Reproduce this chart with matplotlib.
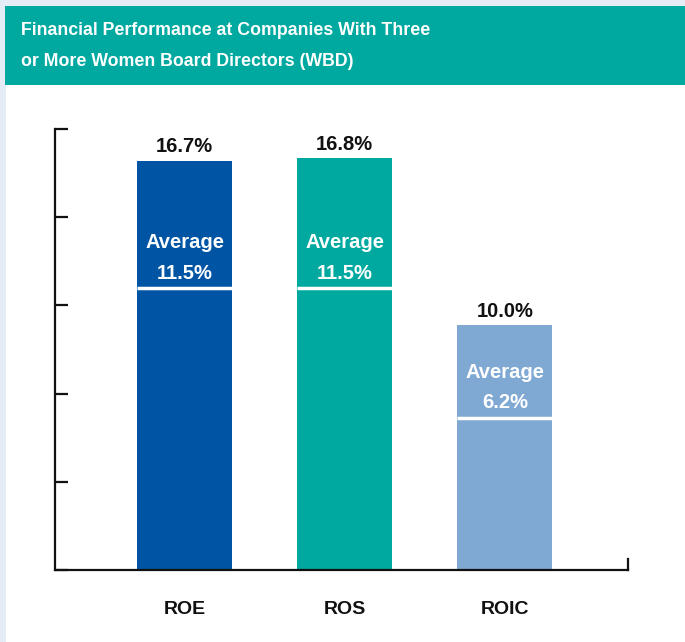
import matplotlib
matplotlib.use("Agg")
import matplotlib.pyplot as plt
from matplotlib.patches import Rectangle

# data
metrics = ["ROE", "ROS", "ROIC"]
wbd_values = [16.7, 16.8, 10.0]
avg_values = [11.5, 11.5, 6.2]
bar_colors = ["#0054A4", "#00A99F", "#7FA9D2"]
title_lines = ["Financial Performance at Companies With Three",
               "or More Women Board Directors (WBD)"]

teal = "#00A99F"
pale = "#E4ECF5"
font = "Liberation Sans"

fig = plt.figure(figsize=(6.85, 6.42), dpi=100, facecolor=pale)

# white panel + teal header band (behind the axes)
fig.patches.append(Rectangle((0.009, 0), 0.991, 0.868, transform=fig.transFigure,
                             facecolor="white", edgecolor="none", zorder=-2))
fig.patches.append(Rectangle((0.008, 0.868), 0.992, 0.123, transform=fig.transFigure,
                             facecolor=teal, edgecolor="none", zorder=-2))
fig.text(0.03, 0.953, title_lines[0], color="white", fontsize=12.8, fontweight="bold",
         family=font, va="center", ha="left")
fig.text(0.03, 0.904, title_lines[1], color="white", fontsize=12.8, fontweight="bold",
         family=font, va="center", ha="left")

ax = fig.add_axes([0.0803, 0.1121, 0.8365, 0.687])
ax.set_facecolor("none")

x = list(range(len(metrics)))
width = 0.594
ax.bar(x, wbd_values, width=width, color=bar_colors, zorder=2)
ax.hlines(avg_values, [i - width / 2 for i in x], [i + width / 2 for i in x],
          color="white", lw=2.5, zorder=3)

for i, (v, a) in enumerate(zip(wbd_values, avg_values)):
    ax.annotate("{:.1f}%".format(v), (i, v), xytext=(0, 6), textcoords="offset points",
                ha="center", va="baseline", fontsize=14.5, fontweight="bold",
                family=font, color="#111111")
    ax.annotate("{:.1f}%".format(a), (i, a), xytext=(0, 7), textcoords="offset points",
                ha="center", va="baseline", fontsize=14.5, fontweight="bold",
                family=font, color="white", zorder=4)
    ax.annotate("Average", (i, a), xytext=(0, 29), textcoords="offset points",
                ha="center", va="baseline", fontsize=14.5, fontweight="bold",
                family=font, color="white", zorder=4)

ax.set_xlim(-0.81, 2.77)
ax.set_ylim(0, 18)
ax.set_yticks([0, 3.6, 7.2, 10.8, 14.4, 18])
ax.set_yticklabels([])
ax.set_xticks(x)
ax.set_xticklabels(metrics, fontsize=14, fontweight="bold", family=font)

ax.spines["top"].set_visible(False)
for s in ["left", "bottom", "right"]:
    ax.spines[s].set_linewidth(1.6)
    ax.spines[s].set_color("#111111")
ax.spines["right"].set_bounds(0, 0.45)

ax.tick_params(axis="y", direction="in", length=9.5, width=1.6, color="#111111")
ax.tick_params(axis="x", length=0, pad=22, colors="#111111")

fig.savefig("out.png", dpi=100, facecolor=pale)
